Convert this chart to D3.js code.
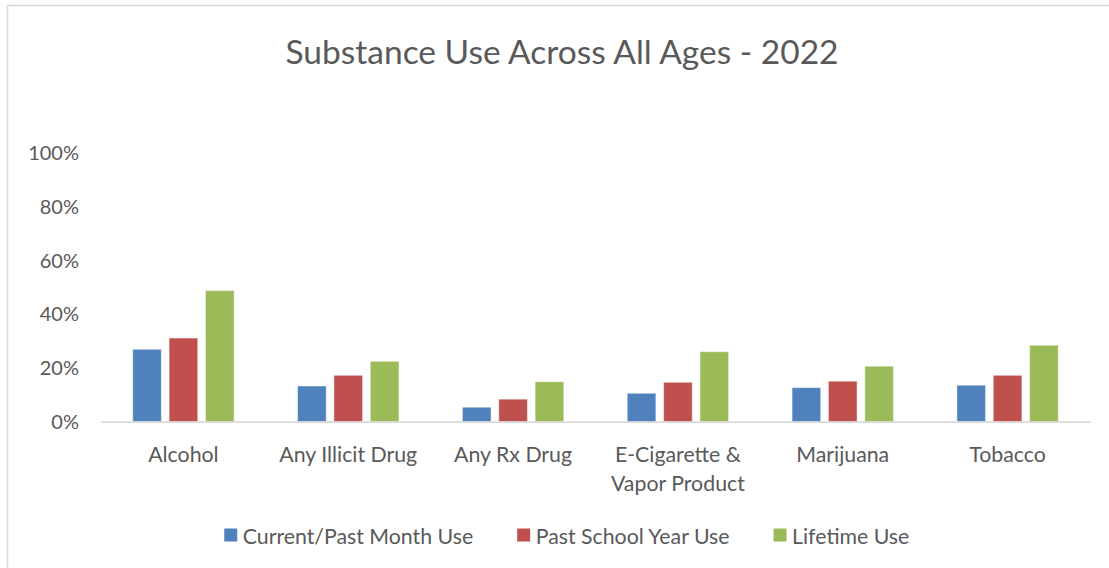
<!DOCTYPE html>
<html>
<head>
<meta charset="utf-8">
<script src="https://cdn.jsdelivr.net/npm/d3@7"></script>
<style>
  html, body { margin: 0; padding: 0; background: #fff; }
  svg { display: block; }
  text { font-family: Lato, "Open Sans", sans-serif; fill: #595959; }
</style>
</head>
<body>
<svg id="chart" width="1109" height="568"></svg>
<script>
// Substance use by category, 2022 (share of respondents)
const categories = ["Alcohol", "Any Illicit Drug", "Any Rx Drug", "E-Cigarette & Vapor Product", "Marijuana", "Tobacco"];
const seriesNames = ["Current/Past Month Use", "Past School Year Use", "Lifetime Use"];
const currentMonth = [0.270, 0.133, 0.054, 0.106, 0.127, 0.136];
const pastSchoolYear = [0.312, 0.173, 0.084, 0.147, 0.151, 0.173];
const lifetime = [0.489, 0.225, 0.149, 0.261, 0.207, 0.285];
const yTicks = [0, 0.2, 0.4, 0.6, 0.8, 1.0];
const colors = ["#4F81BD", "#C0504D", "#9BBB59"];
const titleText = "Substance Use Across All Ages - 2022";

const seriesValues = [currentMonth, pastSchoolYear, lifetime];
const rows = categories.map((c, i) => ({
  category: c,
  values: seriesNames.map((s, k) => ({ series: s, k, value: seriesValues[k][i] }))
}));

const svg = d3.select("#chart");
const W = 1109, H = 568;
const plot = { left: 101, right: 1090, top: 153.5, bottom: 421.7 };

// chart frame (extends past the right and bottom edges)
svg.append("rect")
  .attr("x", 7.5).attr("y", 5.5)
  .attr("width", W + 20).attr("height", H + 20)
  .attr("fill", "#fff").attr("stroke", "#d9d9d9").attr("stroke-width", 1.5);

// title
svg.append("text")
  .attr("x", 562).attr("y", 64)
  .attr("text-anchor", "middle")
  .style("font-size", "33.5px")
  .text(titleText);

const x0 = d3.scaleBand().domain(categories).range([plot.left, plot.right]).padding(0);
const groupW = x0.bandwidth() * 0.615;
const x1 = d3.scaleBand().domain(seriesNames)
  .range([(x0.bandwidth() - groupW) / 2, (x0.bandwidth() + groupW) / 2])
  .paddingInner(0.213).paddingOuter(0);
const y = d3.scaleLinear().domain([0, 1]).range([plot.bottom, plot.top]);

// y axis labels
const yAxis = svg.append("g")
  .attr("transform", `translate(${plot.left},0)`)
  .call(d3.axisLeft(y).tickValues(yTicks).tickFormat(d3.format(".0%")).tickSize(0).tickPadding(22));
yAxis.select(".domain").remove();
yAxis.selectAll("text").style("font-size", "20px").style("font-family", "Lato, sans-serif").attr("fill", "#595959");

// bars
const groups = svg.append("g").selectAll("g")
  .data(rows).join("g")
  .attr("transform", d => `translate(${x0(d.category)},0)`);
groups.selectAll("rect")
  .data(d => d.values).join("rect")
  .attr("x", d => x1(d.series))
  .attr("width", x1.bandwidth())
  .attr("y", d => y(d.value))
  .attr("height", d => y(0) - y(d.value))
  .attr("fill", d => colors[d.k])
  .attr("stroke", "#fff").attr("stroke-opacity", 0.45).attr("stroke-width", 1);

// category axis
const xAxis = svg.append("g")
  .attr("transform", `translate(0,${plot.bottom})`)
  .call(d3.axisBottom(x0).tickSize(0).tickPadding(0).tickFormat(""));
xAxis.select(".domain").attr("stroke", "#d9d9d9").attr("stroke-width", 1.8);

const wrapped = {
  "E-Cigarette & Vapor Product": ["E-Cigarette &", "Vapor Product"]
};
const catLabels = svg.append("g").selectAll("text")
  .data(categories).join("text")
  .attr("x", d => x0(d) + x0.bandwidth() / 2)
  .attr("y", 461.5)
  .attr("text-anchor", "middle")
  .style("font-size", "21.3px");
catLabels.each(function (d) {
  const lines = wrapped[d] || [d];
  d3.select(this).selectAll("tspan").data(lines).join("tspan")
    .attr("x", x0(d) + x0.bandwidth() / 2)
    .attr("dy", (l, i) => i === 0 ? 0 : 29)
    .text(l => l);
});

// legend
const legend = svg.append("g");
const items = legend.selectAll("g").data(seriesNames).join("g");
items.append("rect")
  .attr("width", 13).attr("height", 13)
  .attr("y", 528.5)
  .attr("fill", (d, i) => colors[i]);
items.append("text")
  .attr("x", 18.5).attr("y", 543.5)
  .style("font-size", "21.3px")
  .text(d => d);
let cursor = 0;
const widths = [];
items.each(function () {
  const w = this.querySelector("text").getComputedTextLength() + 18.5;
  widths.push(w);
});
const gap = 44;
const total = d3.sum(widths) + gap * (widths.length - 1);
cursor = 566.8 - total / 2;
items.attr("transform", (d, i) => {
  const t = `translate(${cursor},0)`;
  cursor += widths[i] + gap;
  return t;
});
</script>
</body>
</html>
